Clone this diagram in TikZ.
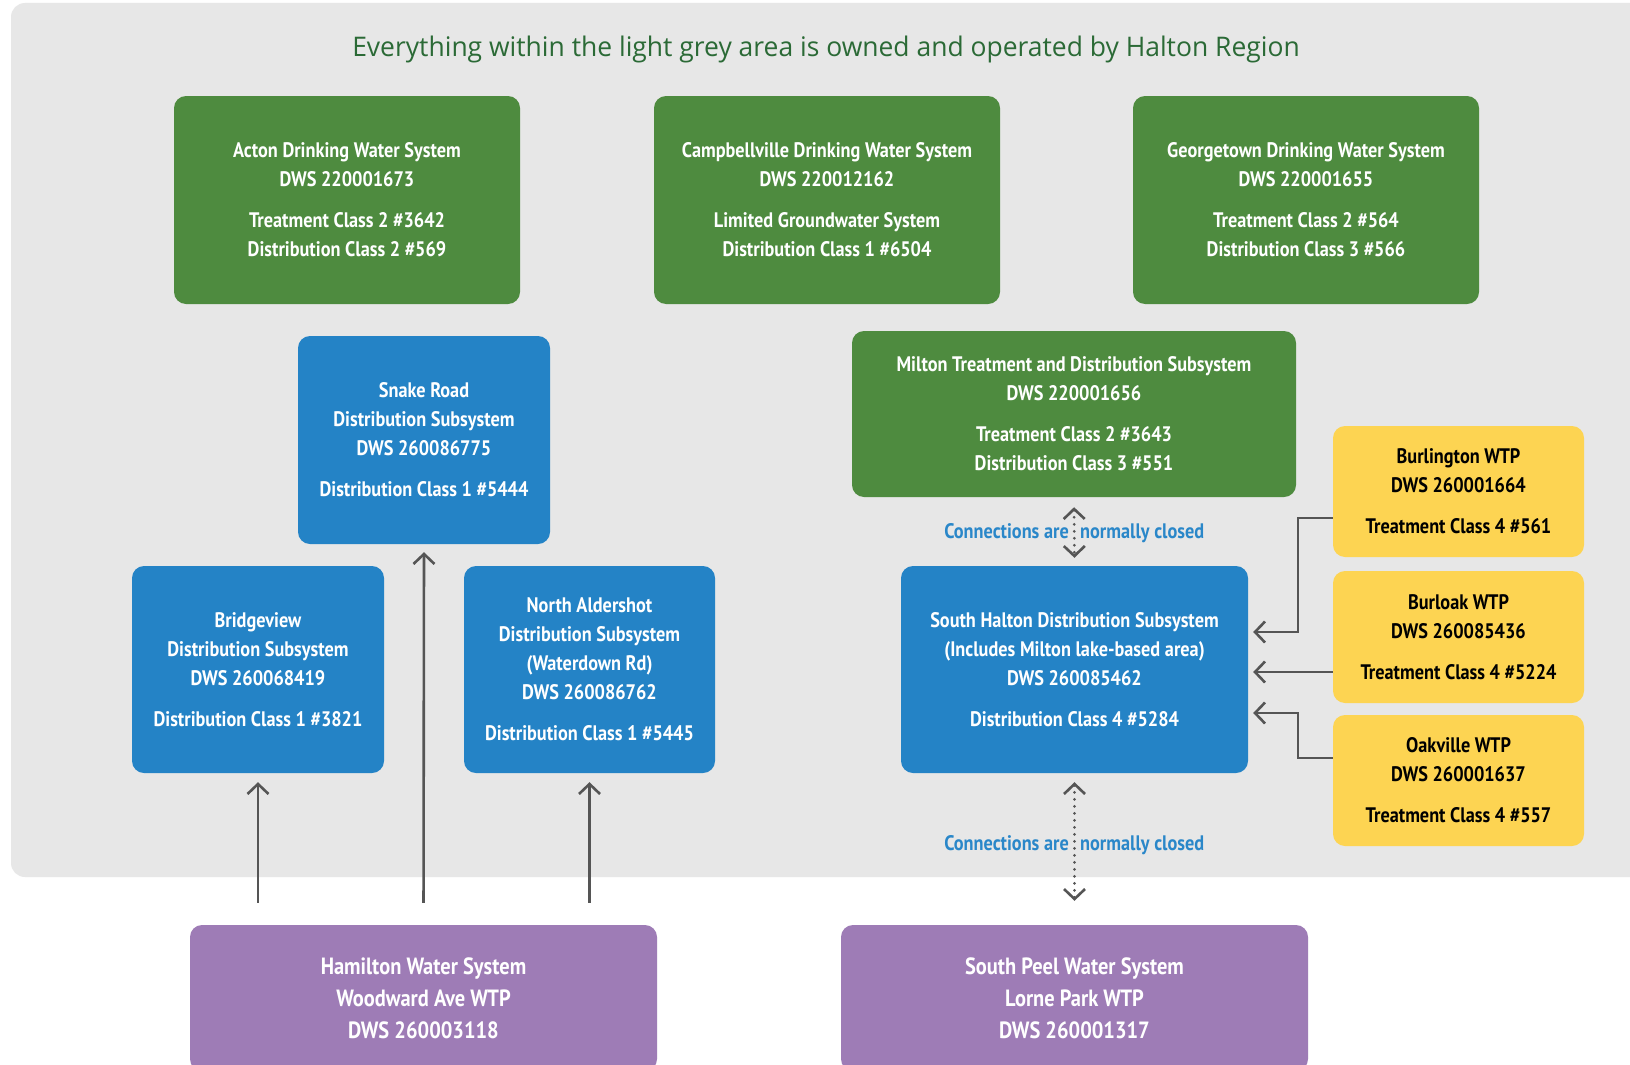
\documentclass[tikz,border=0pt]{standalone}
\usepackage{fontspec}
\usetikzlibrary{arrows.meta}
\newfontfamily\cf[FakeStretch=0.87]{PT Sans}
\newfontfamily\tf[FakeStretch=0.98]{Open Sans}
\definecolor{bggrey}{HTML}{E7E7E7}
\definecolor{hgreen}{HTML}{4E8B3F}
\definecolor{hblue}{HTML}{2483C6}
\definecolor{hyellow}{HTML}{FDD452}
\definecolor{hpurple}{HTML}{9E7CB6}
\definecolor{titlegreen}{HTML}{2B6A36}
\definecolor{labelblue}{HTML}{2A87C9}
\definecolor{arrowgrey}{HTML}{555555}
\tikzset{
  box/.style={rounded corners=12pt, inner sep=0pt, align=center,
    font=\cf\bfseries\fontsize{21}{29}\selectfont, text=white},
  greenbox/.style={box, fill=hgreen},
  bluebox/.style={box, fill=hblue},
  yellowbox/.style={box, fill=hyellow, text=black},
  purplebox/.style={box, fill=hpurple, font=\cf\bfseries\fontsize{23.5}{32}\selectfont},
  conn/.style={draw=arrowgrey, line width=2.6pt, -{Straight Barb[length=10pt,width=21pt]}},
  dotconn/.style={draw=arrowgrey, line width=3pt, line cap=round, dash pattern=on 0pt off 7pt,
    {Straight Barb[length=10pt,width=21pt,line width=2.6pt]}-{Straight Barb[length=10pt,width=21pt,line width=2.6pt]}},
  lbl/.style={inner sep=0pt, text=labelblue, font=\cf\bfseries\fontsize{21}{29}\selectfont}
}
\begin{document}
\begin{tikzpicture}[x=1pt,y=-1pt]
\useasboundingbox (0,0) rectangle (1630,1065);
\clip (0,0) rectangle (1630,1065);
\fill[white] (0,0) rectangle (1630,1065);
\fill[bggrey, rounded corners=14pt] (11,3) rectangle (1670,877);

\node[inner sep=0pt, text=titlegreen, font=\tf\fontsize{27}{32}\selectfont] (title) at (826,49)
  {Everything within the light grey area is owned and operated by Halton Region};

\node[greenbox, minimum width=346pt, minimum height=208pt] (acton) at (347,200)
  {Acton Drinking Water System\\DWS 220001673\\[12pt]Treatment Class 2 \#3642\\Distribution Class 2 \#569};
\node[greenbox, minimum width=346pt, minimum height=208pt] (campbell) at (827,200)
  {Campbellville Drinking Water System\\DWS 220012162\\[12pt]Limited Groundwater System\\Distribution Class 1 \#6504};
\node[greenbox, minimum width=346pt, minimum height=208pt] (george) at (1306,200)
  {Georgetown Drinking Water System\\DWS 220001655\\[12pt]Treatment Class 2 \#564\\Distribution Class 3 \#566};

\node[bluebox, minimum width=252pt, minimum height=208pt] (snake) at (424,440)
  {Snake Road\\Distribution Subsystem\\DWS 260086775\\[12pt]Distribution Class 1 \#5444};
\node[bluebox, minimum width=252pt, minimum height=207pt] (bridge) at (258,669.5)
  {Bridgeview\\Distribution Subsystem\\DWS 260068419\\[12pt]Distribution Class 1 \#3821};
\node[bluebox, minimum width=251pt, minimum height=207pt] (nald) at (589.5,669.5)
  {North Aldershot\\Distribution Subsystem\\(Waterdown Rd)\\DWS 260086762\\[12pt]Distribution Class 1 \#5445};

\node[greenbox, minimum width=444pt, minimum height=166pt] (milton) at (1074,414)
  {Milton Treatment and Distribution Subsystem\\DWS 220001656\\[12pt]Treatment Class 2 \#3643\\Distribution Class 3 \#551};
\node[bluebox, minimum width=347pt, minimum height=207pt] (shalton) at (1074.5,669.5)
  {South Halton Distribution Subsystem\\(Includes Milton lake-based area)\\DWS 260085462\\[12pt]Distribution Class 4 \#5284};

\node[yellowbox, minimum width=251pt, minimum height=131pt] (burl) at (1458.5,491.5)
  {Burlington WTP\\DWS 260001664\\[12pt]Treatment Class 4 \#561};
\node[yellowbox, minimum width=251pt, minimum height=132pt] (burloak) at (1458.5,637)
  {Burloak WTP\\DWS 260085436\\[12pt]Treatment Class 4 \#5224};
\node[yellowbox, minimum width=251pt, minimum height=131pt] (oak) at (1458.5,780.5)
  {Oakville WTP\\DWS 260001637\\[12pt]Treatment Class 4 \#557};

\node[purplebox, minimum width=467pt, minimum height=146pt] (ham) at (423.5,998)
  {Hamilton Water System\\Woodward Ave WTP\\DWS 260003118};
\node[purplebox, minimum width=467pt, minimum height=146pt] (speel) at (1074.5,998)
  {South Peel Water System\\Lorne Park WTP\\DWS 260001317};

% arrows from Hamilton
\draw[conn, shorten <=22pt, shorten >=9pt] (ham.north -| bridge.south) -- (bridge.south);
\draw[conn, shorten <=22pt, shorten >=8pt] (ham.north) -- (snake.south);
\draw[conn, shorten <=22pt, shorten >=9pt] (ham.north -| nald.south) -- (nald.south);

% dotted connections
\draw[dotconn, shorten <=10pt, shorten >=8pt] (milton.south) -- (shalton.north);
\draw[dotconn, shorten <=9pt, shorten >=24pt] (shalton.south) -- (speel.north);
\node[lbl, anchor=base east] (l1a) at (1069,538) {Connections are};
\node[lbl, anchor=base west] (l1b) at (1080,538) {normally closed};
\node[lbl, anchor=base east] (l2a) at (1069,850) {Connections are};
\node[lbl, anchor=base west] (l2b) at (1080,850) {normally closed};

% WTP arrows
\draw[conn] ([yshift=-26.5pt]burl.west) -- ++(-35,0) |- ([yshift=37.5pt,xshift=5pt]shalton.east);
\draw[conn] ([yshift=-35pt]burloak.west) -- ([yshift=-2.5pt,xshift=5pt]shalton.east);
\draw[conn] ([yshift=22.5pt]oak.west) -- ++(-35,0) |- ([yshift=-43.5pt,xshift=5pt]shalton.east);
\end{tikzpicture}
\end{document}
